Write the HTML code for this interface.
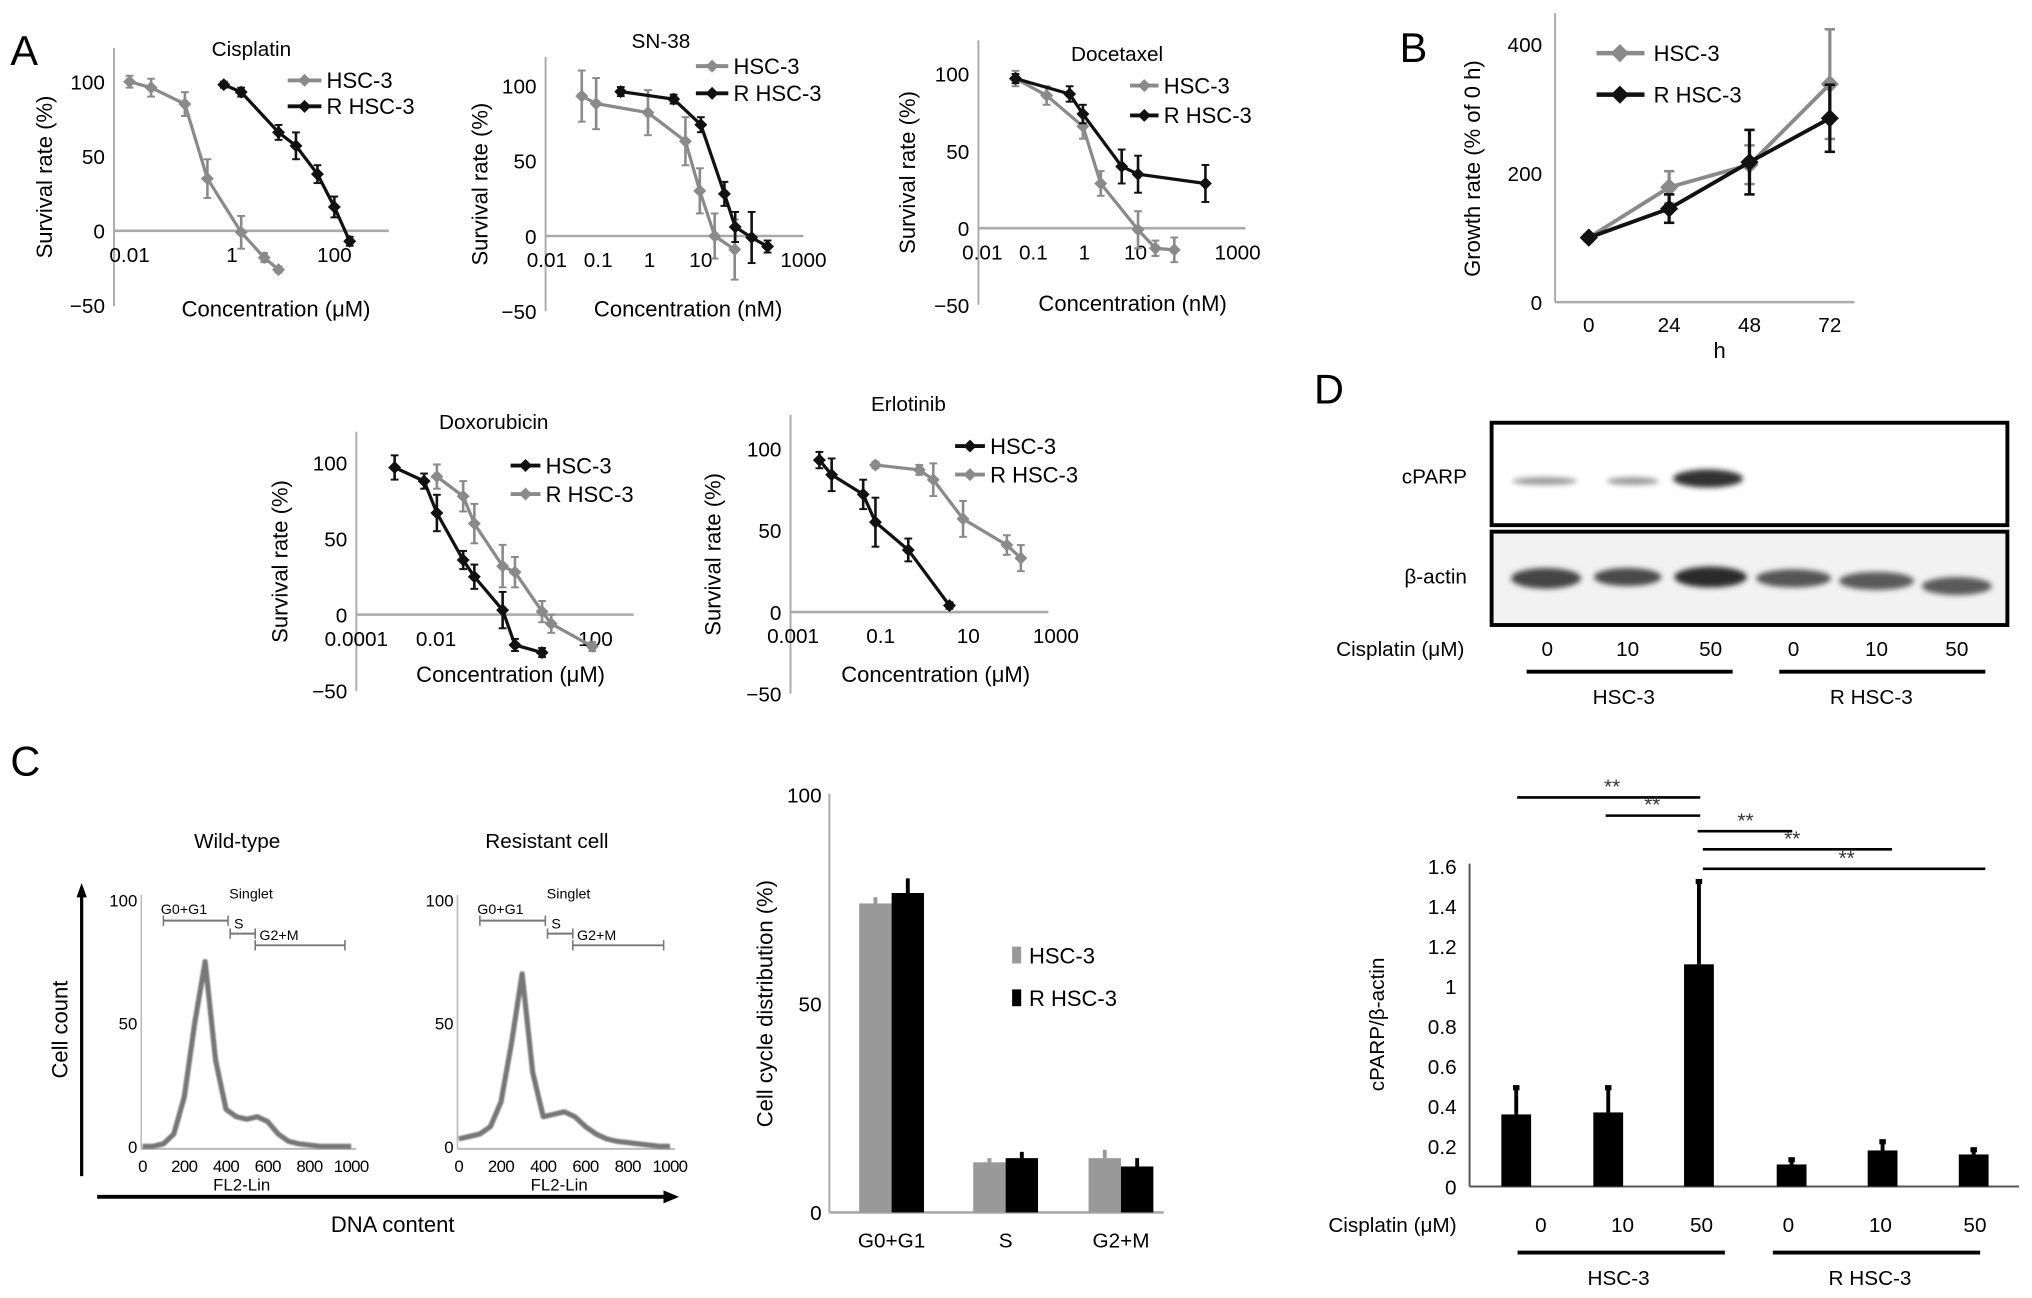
<!DOCTYPE html>
<html><head><meta charset="utf-8"><style>
html,body{margin:0;padding:0;background:#fff;}
svg{display:block;font-family:"Liberation Sans",sans-serif;}
</style></head><body>
<svg id="fig" width="2032" height="1298" viewBox="0 0 1568 1001" preserveAspectRatio="none" xmlns="http://www.w3.org/2000/svg">
<defs>
<filter id="blur" x="-20%" y="-80%" width="140%" height="260%"><feGaussianBlur stdDeviation="2"/></filter>
<filter id="blur1" x="-5%" y="-5%" width="110%" height="110%"><feGaussianBlur stdDeviation="0.7"/></filter>
</defs>
<rect x="0" y="0" width="1568" height="1001" fill="#fff"/>
<text x="8" y="50" font-size="32">A</text>
<text x="1080" y="48" font-size="32">B</text>
<text x="8" y="598" font-size="32">C</text>
<text x="1014" y="311" font-size="32">D</text>

<g>
<rect x="1151" y="326" width="398" height="79" fill="#fff" stroke="#000" stroke-width="3"/>
<rect x="1151" y="410" width="398" height="72" fill="#f2f2f2" stroke="#000" stroke-width="3"/>
<text x="1132" y="373" font-size="16" text-anchor="end">cPARP</text>
<text x="1132" y="450" font-size="16" text-anchor="end">β-actin</text>
<g filter="url(#blur)">
<ellipse cx="1192" cy="371" rx="25" ry="3" fill="#999"/>
<ellipse cx="1260" cy="371" rx="20" ry="3" fill="#999"/>
<ellipse cx="1318" cy="369" rx="27" ry="7" fill="#333"/>
<ellipse cx="1193" cy="446" rx="27" ry="8" fill="#444"/>
<ellipse cx="1256" cy="445" rx="26" ry="7" fill="#4a4a4a"/>
<ellipse cx="1320" cy="445" rx="28" ry="8" fill="#2a2a2a"/>
<ellipse cx="1384" cy="446" rx="29" ry="7" fill="#555"/>
<ellipse cx="1448" cy="448" rx="29" ry="7" fill="#5a5a5a"/>
<ellipse cx="1510" cy="452" rx="27" ry="7" fill="#5a5a5a"/>
</g>
<text x="1130" y="506" font-size="16" text-anchor="end">Cisplatin (μM)</text>
<text x="1194" y="506" font-size="16" text-anchor="middle">0</text>
<text x="1256" y="506" font-size="16" text-anchor="middle">10</text>
<text x="1320" y="506" font-size="16" text-anchor="middle">50</text>
<text x="1384" y="506" font-size="16" text-anchor="middle">0</text>
<text x="1448" y="506" font-size="16" text-anchor="middle">10</text>
<text x="1510" y="506" font-size="16" text-anchor="middle">50</text>
<line x1="1178" y1="518" x2="1337" y2="518" stroke="#000" stroke-width="3"/>
<line x1="1373" y1="518" x2="1532" y2="518" stroke="#000" stroke-width="3"/>
<text x="1253" y="543" font-size="16" text-anchor="middle">HSC-3</text>
<text x="1444" y="543" font-size="16" text-anchor="middle">R HSC-3</text>
</g>
<g id="dyn"></g>
</svg>
<script>
// ===== Survival curve data (log10 concentration, survival %, error) =====
const cisHscLog=[-2,-1.58,-0.92,-0.48,0.18,0.63,0.91];
const cisHscVal=[100,96,85,35,-1,-18,-26];
const cisHscErr=[4,6,8,13,11,3,2];
const cisRLog=[-0.16,0.18,0.91,1.25,1.67,2.0,2.3];
const cisRVal=[98,93,66,57,38,16,-7];
const cisRErr=[2,3,5,9,6,7,3];
const snHscLog=[-1.32,-1.04,-0.03,0.70,0.98,1.27,1.66];
const snHscVal=[93,88,82,63,30,0,-9];
const snHscErr=[17,17,15,16,15,15,20];
const snRLog=[-0.56,0.47,1.0,1.46,1.67,1.99,2.3];
const snRVal=[96,91,74,28,6,-1,-7];
const snRErr=[3,3,5,8,10,17,4];
const docHscLog=[-1.35,-0.74,-0.03,0.32,1.05,1.39,1.76];
const docHscVal=[97,86,66,29,-1,-13,-14];
const docHscErr=[5,6,8,8,12,5,8];
const docRLog=[-1.35,-0.29,-0.03,0.73,1.05,2.37];
const docRVal=[97,87,74,40,35,29];
const docRErr=[3,5,6,11,12,12];
const doxHscLog=[-3.04,-2.3,-1.98,-1.32,-1.04,-0.33,-0.02,0.66];
const doxHscVal=[97,88,67,36,25,3,-20,-25];
const doxHscErr=[8,5,12,6,8,12,4,3];
const doxRLog=[-1.98,-1.32,-1.04,-0.33,-0.02,0.66,0.89,1.92];
const doxRVal=[91,78,60,32,28,2,-6,-21];
const doxRErr=[8,10,13,14,10,7,6,3];
const erlHscLog=[-2.4,-2.12,-1.4,-1.12,-0.37,0.57];
const erlHscVal=[93,84,72,55,38,4];
const erlHscErr=[5,10,9,15,7,2];
const erlRLog=[-1.12,-0.12,0.2,0.88,1.88,2.2];
const erlRVal=[90,87,81,57,41,33];
const erlRErr=[2,3,10,11,6,8];
// ===== Growth (B) =====
const growthHours=[0,24,48,72];
const growthHsc=[100,178,213,338];
const growthHscErr=[5,25,30,85];
const growthR=[100,145,217,285];
const growthRErr=[5,22,50,52];
const growthTicks=[0,200,400];
// ===== Histograms (C) =====
const histBins=[0,50,100,150,200,250,300,350,400,450,500,550,600,650,700,750,800,850,900,950,1000];
const histWild=[0,0,1,5,20,50,75,35,15,12,11,12,10,5,2,1,0.5,0,0,0,0];
const histRes=[3,4,5,8,18,42,70,30,12,13,14,12,8,5,3,2,1.5,1,0.5,0,0];
// ===== Cell-cycle bars (C) =====
const phases=["G0+G1","S","G2+M"];
const cycleHsc=[74,12,13];
const cycleHscErr=[1.5,1,2];
const cycleR=[76.5,13,11];
const cycleRErr=[3.5,1.5,2];
// ===== cPARP ratio (D) =====
const lanes=["0","10","50","0","10","50"];
const cparpVal=[0.36,0.37,1.11,0.11,0.18,0.16];
const cparpErr=[0.14,0.13,0.42,0.03,0.05,0.03];
const cparpTicks=[0,0.2,0.4,0.6,0.8,1,1.2,1.4,1.6];

const NS="http://www.w3.org/2000/svg";
const root=document.getElementById('dyn');
function mk(tag,attrs,parent){const e=document.createElementNS(NS,tag);for(const k in attrs)e.setAttribute(k,attrs[k]);(parent||root).appendChild(e);return e;}
function txt(s,x,y,size,anchor,parent,extra){const e=mk('text',Object.assign({x:x,y:y,'font-size':size,'text-anchor':anchor||'start'},extra||{}),parent);e.textContent=s;return e;}
function diamond(x,y,r,col,parent){return mk('polygon',{points:`${x},${y-r} ${x+r},${y} ${x},${y+r} ${x-r},${y}`,fill:col},parent);}

const GRAY='#8a8a8a',BLACK='#111';
function survival(c){
  const g=mk('g',{});
  
  
  const k=(c.y0-c.y100)/100;
  const Y=v=>c.y0-v*k;
  const X=l=>c.x0+(l-c.lmin)*c.ppd;
  mk('line',{x1:c.ax,y1:c.yTop,x2:c.ax,y2:c.yBot,stroke:'#aaa','stroke-width':1.5},g);
  mk('line',{x1:c.ax,y1:c.y0,x2:c.xEnd,y2:c.y0,stroke:'#aaa','stroke-width':2},g);
  [100,50,0,-50].forEach(v=>{const t=txt(v===-50?'−50':String(v),c.ax-7,Y(v)+6,16,'end',g);
    
    });
  c.ticks.forEach(tk=>{const t=txt(tk[1],X(tk[0]),c.y0+24,16,'middle',g);
    
    });
  const tt=txt(c.title,c.tx,c.ty,16,'middle',g);
  
  
  const xl=txt(c.xlabel,c.xlx,c.xly,17,'middle',g);
  
  
  const cy=(c.yTop+c.yBot)/2;
  const yl=txt('Survival rate (%)',c.ylx,cy,17,'middle',g,{transform:`rotate(-90 ${c.ylx} ${cy})`});
  
  
  c.series.forEach((s,si)=>{
    const sg=mk('g',{},g);
    
    
    const pts=s.logs.map((l,i)=>X(l)+','+Y(s.vals[i])).join(' ');
    mk('polyline',{points:pts,fill:'none',stroke:s.col,'stroke-width':2.5},sg);
    s.logs.forEach((l,i)=>{const x=X(l),y1=Y(s.vals[i]+s.errs[i]),y2=Y(s.vals[i]-s.errs[i]);
      mk('line',{x1:x,y1:y1,x2:x,y2:y2,stroke:s.col,'stroke-width':2},sg);
      mk('line',{x1:x-3,y1:y1,x2:x+3,y2:y1,stroke:s.col,'stroke-width':1.5},sg);
      mk('line',{x1:x-3,y1:y2,x2:x+3,y2:y2,stroke:s.col,'stroke-width':1.5},sg);
      const d=diamond(x,Y(s.vals[i]),5,s.col,sg);
      
      
    });
    const ly=c.legY[si];
    const lg=mk('g',{},g);
    
    
    mk('line',{x1:c.legX1,y1:ly,x2:c.legX2,y2:ly,stroke:s.col,'stroke-width':3},lg);
    diamond((c.legX1+c.legX2)/2,ly,5,s.col,lg);
    txt(s.label,c.legX2+4,ly+6,17,'start',lg);
  });
}
survival({name:'cisplatin-chart',ax:88,yTop:37,yBot:236,y100:63,y0:178,x0:100,lmin:-2,ppd:39.5,xEnd:300,
 ticks:[[-2,'0.01'],[0,'1'],[2,'100']],title:'Cisplatin',tx:194,ty:43,xlabel:'Concentration (μM)',xlx:213,xly:244,ylx:40,
 legX1:222,legX2:248,legY:[62,82],
 series:[{label:'HSC-3',col:GRAY,logs:cisHscLog,vals:cisHscVal,errs:cisHscErr},{label:'R HSC-3',col:BLACK,logs:cisRLog,vals:cisRVal,errs:cisRErr}]});
survival({name:'sn38-chart',ax:421,yTop:44,yBot:240,y100:66,y0:182,x0:422,lmin:-2,ppd:39.6,xEnd:620,
 ticks:[[-2,'0.01'],[-1,'0.1'],[0,'1'],[1,'10'],[3,'1000']],title:'SN-38',tx:510,ty:37,xlabel:'Concentration (nM)',xlx:531,xly:244,ylx:376,
 legX1:537,legX2:562,legY:[51,72],
 series:[{label:'HSC-3',col:GRAY,logs:snHscLog,vals:snHscVal,errs:snHscErr},{label:'R HSC-3',col:BLACK,logs:snRLog,vals:snRVal,errs:snRErr}]});
survival({name:'docetaxel-chart',ax:755,yTop:31,yBot:235,y100:57,y0:176,x0:758,lmin:-2,ppd:39.4,xEnd:961,
 ticks:[[-2,'0.01'],[-1,'0.1'],[0,'1'],[1,'10'],[3,'1000']],title:'Docetaxel',tx:862,ty:47,xlabel:'Concentration (nM)',xlx:874,xly:240,ylx:706,
 legX1:872,legX2:894,legY:[66,89],
 series:[{label:'HSC-3',col:GRAY,logs:docHscLog,vals:docHscVal,errs:docHscErr},{label:'R HSC-3',col:BLACK,logs:docRLog,vals:docRVal,errs:docRErr}]});
survival({name:'doxorubicin-chart',ax:275,yTop:333,yBot:533,y100:357,y0:474,x0:275,lmin:-4,ppd:30.75,xEnd:489,
 ticks:[[-4,'0.0001'],[-2,'0.01'],[2,'100']],title:'Doxorubicin',tx:381,ty:331,xlabel:'Concentration (μM)',xlx:394,xly:526,ylx:222,
 legX1:394,legX2:417,legY:[359,381],
 series:[{label:'HSC-3',col:BLACK,logs:doxHscLog,vals:doxHscVal,errs:doxHscErr},{label:'R HSC-3',col:GRAY,logs:doxRLog,vals:doxRVal,errs:doxRErr}]});
survival({name:'erlotinib-chart',ax:610,yTop:320,yBot:535,y100:346,y0:472,x0:612,lmin:-3,ppd:33.8,xEnd:809,
 ticks:[[-3,'0.001'],[-1,'0.1'],[1,'10'],[3,'1000']],title:'Erlotinib',tx:701,ty:317,xlabel:'Concentration (μM)',xlx:722,xly:526,ylx:556,
 legX1:737,legX2:760,legY:[344,366],
 series:[{label:'HSC-3',col:BLACK,logs:erlHscLog,vals:erlHscVal,errs:erlHscErr},{label:'R HSC-3',col:GRAY,logs:erlRLog,vals:erlRVal,errs:erlRErr}]});

// ===== B growth chart =====
(function(){
  const g=mk('g',{});
  
  
  const Y=v=>233-v*99.5/200, X=h=>1226+h*(1412-1226)/72;
  mk('line',{x1:1200,y1:10,x2:1200,y2:233,stroke:'#aaa','stroke-width':1.5},g);
  mk('line',{x1:1200,y1:233,x2:1431,y2:233,stroke:'#aaa','stroke-width':2},g);
  growthTicks.forEach(v=>{const t=txt(String(v),1190,Y(v)+6,16,'end',g);
    
    });
  growthHours.forEach(h=>{const t=txt(String(h),X(h),256,16,'middle',g);
    
    });
  const hl=txt('h',1327,276,17,'middle',g);
  
  
  const yl=txt('Growth rate (% of 0 h)',1142,130,17,'middle',g,{transform:'rotate(-90 1142 130)'});
  
  
  [[growthHsc,growthHscErr,GRAY,'HSC-3',41],[growthR,growthRErr,BLACK,'R HSC-3',73]].forEach(s=>{
    const sg=mk('g',{},g);
    
    
    mk('polyline',{points:growthHours.map((h,i)=>X(h)+','+Y(s[0][i])).join(' '),fill:'none',stroke:s[2],'stroke-width':3},sg);
    growthHours.forEach((h,i)=>{const x=X(h),a=Y(s[0][i]+s[1][i]),b=Y(s[0][i]-s[1][i]);
      mk('line',{x1:x,y1:a,x2:x,y2:b,stroke:s[2],'stroke-width':2.5},sg);
      mk('line',{x1:x-4,y1:a,x2:x+4,y2:a,stroke:s[2],'stroke-width':2},sg);
      mk('line',{x1:x-4,y1:b,x2:x+4,y2:b,stroke:s[2],'stroke-width':2},sg);
      const d=diamond(x,Y(s[0][i]),7,s[2],sg);
      
      });
    const lg=mk('g',{},g);
    
    
    mk('line',{x1:1232,y1:s[4],x2:1269,y2:s[4],stroke:s[2],'stroke-width':3.5},lg);
    diamond(1250,s[4],7,s[2],lg);
    txt(s[3],1276,s[4]+6,17,'start',lg);
  });
})();

// ===== C histograms =====
function hist(name,ax,x0,x1,vals,title,tx){
  const g=mk('g',{});
  
  
  const X=v=>x0+v*(x1-x0)/1000, Y=c=>884-c*1.9;
  mk('line',{x1:ax,y1:690,x2:ax,y2:886,stroke:'#bbb','stroke-width':1.2},g);
  mk('line',{x1:ax,y1:886,x2:x1+4,y2:886,stroke:'#bbb','stroke-width':1.5},g);
  [0,50,100].forEach(v=>txt(String(v),ax-3,Y(v)+5,13,'end',g));
  [0,200,400,600,800,1000].forEach(v=>txt(String(v),X(v),904,13,'middle',g,{'letter-spacing':'-0.5'}));
  txt('FL2-Lin',(x0+x1)/2-4,918,13,'middle',g);
  const t=txt(title,tx,654,16,'middle',g);
  
  
  const p=mk('polyline',{points:histBins.map((b,i)=>X(b)+','+Y(vals[i])).join(' '),fill:'none',stroke:'#777','stroke-width':4,'stroke-linejoin':'round',filter:'url(#blur1)'},g);
  
  
  const gs=[[100,410,710,'G0+G1',X(100)-2,705],[420,540,720,'S',X(420)+3,716],[540,970,729,'G2+M',X(560),725]];
  gs.forEach(q=>{mk('line',{x1:X(q[0]),y1:q[2],x2:X(q[1]),y2:q[2],stroke:'#777','stroke-width':1.5},g);
    mk('line',{x1:X(q[0]),y1:q[2]-4,x2:X(q[0]),y2:q[2]+4,stroke:'#777','stroke-width':1.2},g);
    mk('line',{x1:X(q[1]),y1:q[2]-4,x2:X(q[1]),y2:q[2]+4,stroke:'#777','stroke-width':1.2},g);
    txt(q[3],q[4],q[5],11,'start',g);});
  txt('Singlet',X(520),693,11,'middle',g);
}
hist('histogram-wild-type',109,110,271,histWild,'Wild-type',183);
hist('histogram-resistant',353,354,517,histRes,'Resistant cell',422);
(function(){
  const g=mk('g',{});
  
  
  mk('line',{x1:63,y1:907,x2:63,y2:690,stroke:'#000','stroke-width':2.5},g);
  mk('polygon',{points:'63,681 59,692 67,692',fill:'#000'},g);
  mk('line',{x1:75,y1:923,x2:514,y2:923,stroke:'#000','stroke-width':3},g);
  mk('polygon',{points:'524,923 512,918 512,928',fill:'#000'},g);
  txt('Cell count',52,794,17,'middle',g,{transform:'rotate(-90 52 794)'});
  txt('DNA content',303,950,17,'middle',g);
})();

// ===== C bar chart =====
(function(){
  const g=mk('g',{});
  
  
  const Y=v=>935-v*3.22, cx=[688,776,865];
  mk('line',{x1:640,y1:612,x2:640,y2:935,stroke:'#aaa','stroke-width':1.5},g);
  mk('line',{x1:640,y1:935,x2:898,y2:935,stroke:'#aaa','stroke-width':2},g);
  [0,50,100].forEach(v=>txt(String(v),634,Y(v)+6,16,'end',g));
  phases.forEach((p,i)=>{const t=txt(p,cx[i],962,16,'middle',g);
    
    
    [[cycleHsc,cycleHscErr,'#999',-25],[cycleR,cycleRErr,'#000',0]].forEach(s=>{
      const b=mk('rect',{x:cx[i]+s[3],y:Y(s[0][i]),width:25,height:935-Y(s[0][i]),fill:s[2]},g);
      
      
      mk('line',{x1:cx[i]+s[3]+12.5,y1:Y(s[0][i]),x2:cx[i]+s[3]+12.5,y2:Y(s[0][i]+s[1][i]),stroke:s[2],'stroke-width':3},g);
    });
  });
  const yl=txt('Cell cycle distribution (%)',596,774,17,'middle',g,{transform:'rotate(-90 596 774)'});
  
  
  mk('rect',{x:781,y:730,width:7,height:13,fill:'#999'},g);
  txt('HSC-3',794,743,17,'start',g);
  mk('rect',{x:781,y:763,width:7,height:13,fill:'#000'},g);
  txt('R HSC-3',794,776,17,'start',g);
})();

// ===== D cPARP bar chart =====
(function(){
  const g=mk('g',{});
  
  
  const Y=v=>915-v*154.35, cx=[1170,1241,1311,1382.5,1452.7,1523];
  mk('line',{x1:1134,y1:666,x2:1134,y2:915,stroke:'#555','stroke-width':1.5},g);
  mk('line',{x1:1134,y1:915,x2:1558,y2:915,stroke:'#555','stroke-width':1.5},g);
  cparpTicks.forEach(v=>txt(String(v),1124,Y(v)+6,16,'end',g));
  cparpVal.forEach((v,i)=>{
    const b=mk('rect',{x:cx[i]-11.5,y:Y(v),width:23,height:915-Y(v),fill:'#000'},g);
    
    
    mk('line',{x1:cx[i],y1:Y(v),x2:cx[i],y2:Y(v+cparpErr[i]),stroke:'#000','stroke-width':3},g);
    mk('rect',{x:cx[i]-2.5,y:Y(v+cparpErr[i])-1,width:5,height:4,fill:'#000'},g);
  });
  const sig=[[1170.7,1312,615],[1239,1312,629],[1310,1383,641],[1314,1460,655],[1314,1532,670]];
  const starX=[1244,1275,1347,1383,1425];
  sig.forEach((s,i)=>{mk('line',{x1:s[0],y1:s[2],x2:s[1],y2:s[2],stroke:'#000','stroke-width':2},g);
    const t=txt('**',starX[i],s[2]-3,16,'middle',g,{fill:'#333'});
    
    });
  const yl=txt('cPARP/β-actin',1068,790,16,'middle',g,{transform:'rotate(-90 1068 790)'});
  
  
  txt('Cisplatin (μM)',1124,950,16,'end',g);
  const lx=[1189,1252,1313,1380,1451,1524];
  lanes.forEach((l,i)=>txt(l,lx[i],950,16,'middle',g));
  mk('line',{x1:1171,y1:966,x2:1331,y2:966,stroke:'#000','stroke-width':3},g);
  mk('line',{x1:1368,y1:966,x2:1528,y2:966,stroke:'#000','stroke-width':3},g);
  txt('HSC-3',1249,991,16,'middle',g);
  txt('R HSC-3',1443,991,16,'middle',g);
})();
</script>
</body></html>
